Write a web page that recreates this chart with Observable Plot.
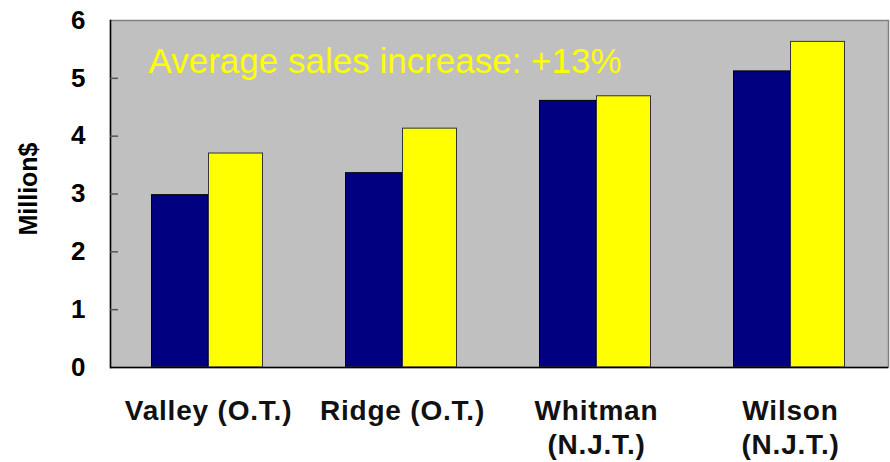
<!DOCTYPE html>
<html>
<head>
<meta charset="utf-8">
<script src="https://cdn.jsdelivr.net/npm/d3@7"></script>
<script src="https://cdn.jsdelivr.net/npm/@observablehq/plot@0.6"></script>
<style>
  html, body { margin: 0; padding: 0; background: #fff; }
  svg { display: block; }
  g[aria-label="x-axis tick label"] text { letter-spacing: 0.8px; }
</style>
</head>
<body>
<div id="chart"></div>
<script>
const categories = ["Valley (O.T.)", "Ridge (O.T.)", "Whitman\n(N.J.T.)", "Wilson\n(N.J.T.)"];
const before = [2.98, 3.36, 4.61, 5.12];
const after = [3.70, 4.13, 4.69, 5.63];
const yTicks = [0, 1, 2, 3, 4, 5, 6];
const yLabel = "Million$";
const title = "Average sales increase: +13%";

const rowsBefore = categories.map((c, i) => ({category: c, value: before[i]}));
const rowsAfter = categories.map((c, i) => ({category: c, value: after[i]}));

const font = "'Liberation Sans', Arial, Helvetica, sans-serif";

const chart = Plot.plot({
  width: 890,
  height: 462,
  marginTop: 20,
  marginBottom: 95,
  marginLeft: 110,
  marginRight: 2,
  style: {fontFamily: font, background: "#fff"},
  x: {domain: categories, padding: 0, label: null},
  y: {domain: [0, 6], ticks: yTicks, label: null},
  marks: [
    Plot.frame({fill: "#c0c0c0", stroke: "none"}),
    Plot.barY(rowsBefore, {x: "category", y: "value", fill: "#000080", stroke: "#000", strokeWidth: 1, insetLeft: 40.5, insetRight: 97.5}),
    Plot.barY(rowsAfter, {x: "category", y: "value", fill: "#ffff00", stroke: "#333", strokeWidth: 1, insetLeft: 97.5, insetRight: 42.5}),
    Plot.frame({stroke: "#808080", strokeWidth: 1.5}),
    Plot.frame({anchor: "left", stroke: "#000", strokeWidth: 1.5}),
    Plot.ruleY([0], {stroke: "#000", strokeWidth: 1.5}),
    Plot.axisY(yTicks.slice(1, -1), {tickSize: 8, dx: 8, text: null, stroke: "#555", strokeWidth: 1.5, label: null}),
    Plot.axisY(yTicks, {tickSize: 0, tickPadding: 25, fontSize: 26, fontWeight: "bold", fill: "#000", label: null, tickFormat: d => String(d)}),
    Plot.axisX({tickSize: 0, tickPadding: 28, fontSize: 28, fontWeight: "bold", fill: "#111", lineHeight: 1.22, label: null}),
    Plot.text([title], {frameAnchor: "top-left", dx: 38, dy: 41, text: d => d, textAnchor: "start", lineAnchor: "middle", fill: "#ffff00", fontSize: 35, fontWeight: "normal"}),
    Plot.text([yLabel], {frameAnchor: "left", dx: -82, dy: -5, text: d => d, textAnchor: "middle", rotate: -90, fontSize: 25, fontWeight: "bold", fill: "#000"})
  ]
});

document.getElementById("chart").appendChild(chart);
</script>
</body>
</html>
